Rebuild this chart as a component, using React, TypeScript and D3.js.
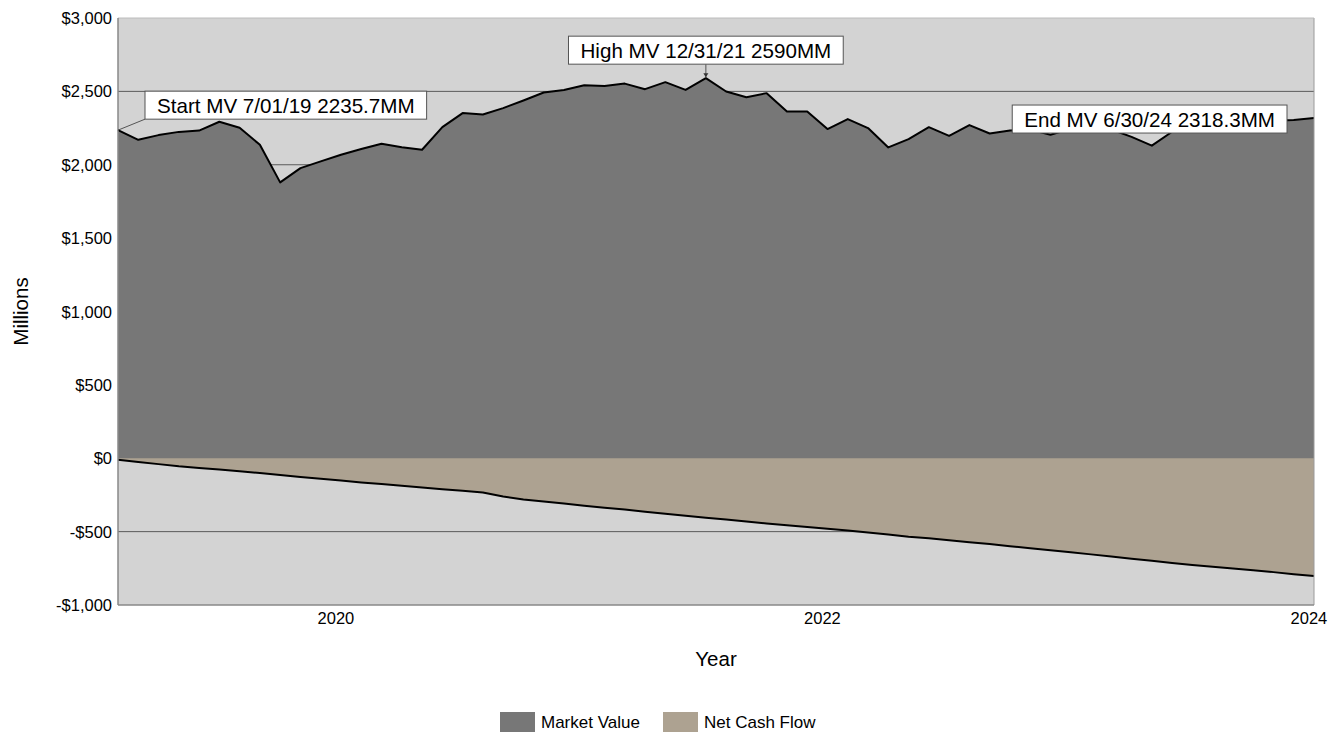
import React from "react";
import * as d3 from "d3";

// Monthly market value (millions), Jul 2019 .. Jun 2024
const marketValue: number[] = [
  2235.7, 2170, 2202, 2224, 2233, 2293, 2252, 2136, 1880, 1977,
  2023, 2068, 2107, 2143, 2120, 2102, 2256, 2352, 2342, 2386,
  2438, 2492, 2510, 2542, 2537, 2553, 2515, 2563, 2510, 2590,
  2499, 2460, 2488, 2363, 2363, 2243, 2311, 2250, 2118, 2175,
  2256, 2197, 2270, 2213, 2233, 2240, 2204, 2245, 2250, 2240,
  2190, 2130, 2225, 2265, 2280, 2295, 2290, 2300, 2305, 2318.3,
];

// Cumulative net cash flow (millions)
const netCashFlow: number[] = [
  -10, -25, -40, -55, -66, -77, -88, -101, -114, -127,
  -140, -152, -165, -176, -188, -199, -211, -222, -233, -260,
  -281, -295, -309, -323, -337, -350, -364, -378, -392, -405,
  -418, -431, -444, -456, -469, -480, -492, -506, -520, -535,
  -545, -558, -572, -585, -599, -613, -627, -640, -655, -670,
  -685, -699, -713, -727, -739, -751, -763, -776, -790, -803,
];

const yTicks: number[] = [-1000, -500, 0, 500, 1000, 1500, 2000, 2500, 3000];
const xTickLabels: string[] = ["2020", "2022", "2024"];
const xTickPositions: number[] = [10.75, 34.75, 58.75]; // in month index units

const seriesNames: string[] = ["Market Value", "Net Cash Flow"];
const seriesColors: string[] = ["#777777", "#ada291"];

const annotations = [
  { text: "Start MV 7/01/19 2235.7MM", index: 0, kind: "start" },
  { text: "High MV 12/31/21 2590MM", index: 29, kind: "high" },
  { text: "End MV 6/30/24 2318.3MM", index: 59, kind: "end" },
];

const W = 1341;
const H = 734;
const left = 118;
const right = 1314;
const top = 18;
const bottom = 605;
const FONT = "'Liberation Sans', Arial, sans-serif";

function fmt(v: number) {
  const s = "$" + d3.format(",")(Math.abs(v));
  return v < 0 ? "-" + s : s;
}

function textWidth(t: string, size: number) {
  // approximate Arial widths
  const w: Record<string, number> = {
    M: 0.833, V: 0.667, S: 0.667, H: 0.722, E: 0.667, " ": 0.278, "/": 0.278, ".": 0.278,
    t: 0.278, r: 0.333, i: 0.222, l: 0.222, a: 0.556, g: 0.556, h: 0.556, n: 0.556, d: 0.556,
  };
  let s = 0;
  for (const c of t) s += w[c] ?? 0.556;
  return s * size;
}

export default function App() {
  const x = d3.scaleLinear().domain([0, marketValue.length - 1]).range([left, right]);
  const y = d3.scaleLinear().domain([-1000, 3000]).range([bottom, top]);

  const mvArea = d3.area<number>().x((_, i) => x(i)).y0(y(0)).y1((d) => y(d))(marketValue) || "";
  const mvLine = d3.line<number>().x((_, i) => x(i)).y((d) => y(d))(marketValue) || "";
  const cfArea = d3.area<number>().x((_, i) => x(i)).y0(y(0)).y1((d) => y(d))(netCashFlow) || "";
  const cfLine = d3.line<number>().x((_, i) => x(i)).y((d) => y(d))(netCashFlow) || "";

  const annFont = 20.6;
  const padX = 12;
  const boxH = 28;

  const annEls = annotations.map((a, k) => {
    const px = x(a.index);
    const py = y(marketValue[a.index]);
    const bw = textWidth(a.text, annFont) + padX * 2;
    let bx = 0, by = 0;
    let leader: React.ReactNode = null;
    if (a.kind === "start") {
      bx = px + 27;
      by = py - 25 - boxH / 2;
      leader = <line x1={px} y1={py} x2={bx} y2={by + boxH} stroke="#333" strokeWidth={0.8} />;
    } else if (a.kind === "high") {
      bx = px - bw / 2;
      by = py - 14 - boxH;
      leader = (
        <g>
          <line x1={px} y1={by + boxH} x2={px} y2={py - 1} stroke="#333" strokeWidth={0.8} />
          <path d={`M${px - 2.5},${py - 5} L${px + 2.5},${py - 5} L${px},${py - 1} Z`} fill="#333" />
        </g>
      );
    } else {
      bx = px - 27 - bw;
      by = py - boxH / 2 + 1;
    }
    return (
      <g key={k}>
        {leader}
        <rect x={bx} y={by} width={bw} height={boxH} fill="#ffffff" stroke="#555" strokeWidth={1} />
        <text x={bx + bw / 2} y={by + boxH / 2} textAnchor="middle" dominantBaseline="central"
          fontSize={annFont} fontFamily={FONT} fill="#000">{a.text}</text>
      </g>
    );
  });

  return (
    <svg width={W} height={H} style={{ position: "absolute", left: 0, top: 0, background: "#fff" }}>
      <rect x={left} y={top} width={right - left} height={bottom - top} fill="#d3d3d3" />
      {yTicks.filter((t) => t !== -1000 && t !== 3000).map((t) => (
        <line key={t} x1={left} x2={right} y1={y(t)} y2={y(t)} stroke="#5a5a5a" strokeWidth={1} />
      ))}
      <path d={mvArea} fill={seriesColors[0]} />
      <path d={cfArea} fill={seriesColors[1]} />
      <path d={mvLine} fill="none" stroke="#000" strokeWidth={2} strokeLinejoin="round" />
      <path d={cfLine} fill="none" stroke="#000" strokeWidth={2} strokeLinejoin="round" />
      <line x1={right} x2={right} y1={top} y2={bottom} stroke="#9a9a9a" strokeWidth={1} />
      <line x1={left} x2={right} y1={top} y2={top} stroke="#bcbcbc" strokeWidth={1} />
      <line x1={left} x2={left} y1={top} y2={bottom} stroke="#888" strokeWidth={1.5} />
      <line x1={left} x2={right} y1={bottom} y2={bottom} stroke="#888" strokeWidth={1.5} />
      {yTicks.map((t) => (
        <text key={t} x={112} y={y(t)} textAnchor="end" dominantBaseline="central"
          fontSize={16.5} fontFamily={FONT} fill="#000">{fmt(t)}</text>
      ))}
      {xTickLabels.map((l, i) => (
        <text key={l} x={x(xTickPositions[i])} y={618} textAnchor="middle" dominantBaseline="central"
          fontSize={16.5} fontFamily={FONT} fill="#000">{l}</text>
      ))}
      <text transform={`translate(20,${(top + bottom) / 2}) rotate(-90)`} textAnchor="middle"
        dominantBaseline="central" fontSize={20.5} fontFamily={FONT} fill="#000">Millions</text>
      <text x={716} y={658} textAnchor="middle" dominantBaseline="central" fontSize={20.5}
        fontFamily={FONT} fill="#000">Year</text>
      {annEls}
      <g>
        <rect x={500} y={712} width={35} height={20} fill={seriesColors[0]} />
        <text x={541} y={722} dominantBaseline="central" fontSize={17} fontFamily={FONT} fill="#000">{seriesNames[0]}</text>
        <rect x={663} y={712} width={35} height={20} fill={seriesColors[1]} />
        <text x={704} y={722} dominantBaseline="central" fontSize={17} fontFamily={FONT} fill="#000">{seriesNames[1]}</text>
      </g>
    </svg>
  );
}
